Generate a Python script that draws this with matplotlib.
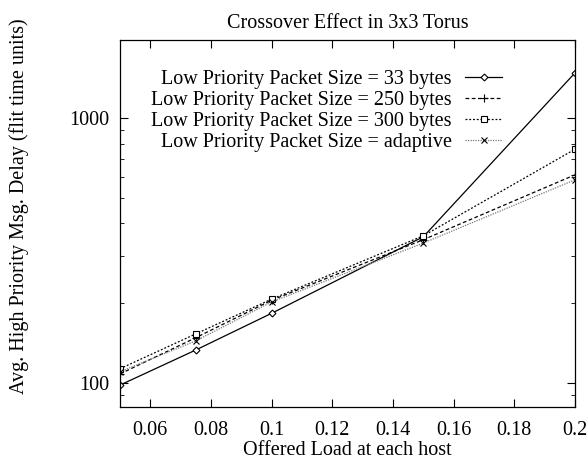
import matplotlib
matplotlib.use("Agg")
import matplotlib.pyplot as plt
from matplotlib.ticker import FixedLocator, LogLocator, NullFormatter

plt.rcParams['font.family'] = ['Liberation Serif', 'DejaVu Serif']

load = [0.05, 0.075, 0.1, 0.15, 0.2]
delay_33 = [98, 133, 183, 356, 1480]
delay_250 = [108, 148, 205, 347, 610]
delay_300 = [113, 153, 207, 359, 762]
delay_adaptive = [110, 144, 202, 337, 584]

labels = ["Low Priority Packet Size = 33 bytes",
          "Low Priority Packet Size = 250 bytes",
          "Low Priority Packet Size = 300 bytes",
          "Low Priority Packet Size = adaptive"]
xticks = [0.06, 0.08, 0.1, 0.12, 0.14, 0.16, 0.18, 0.2]
xticklabels = ["0.06", "0.08", "0.1", "0.12", "0.14", "0.16", "0.18", "0.2"]

fs = 14.5
fig = plt.figure(figsize=(5.88, 4.59), dpi=100)
ax = fig.add_axes([120 / 588, 1 - 407 / 459, 455 / 588, 367 / 459])

ax.plot(load, delay_33, color='black', lw=0.9, ls='-', marker='D', ms=3.5,
        mfc='white', mew=0.8, label=labels[0])
ax.plot(load, delay_250, color='black', lw=0.9, ls=(0, (3, 2)), marker='+', ms=6,
        mew=0.8, label=labels[1])
ax.plot(load, delay_300, color='black', lw=0.9, ls=(0, (1.5, 1.5)), marker='s', ms=5,
        mfc='white', mew=0.8, label=labels[2])
ax.plot(load, delay_adaptive, color='#777777', lw=0.9, ls=(0, (1, 1)), marker='x', ms=5,
        mec='black', mew=0.8, label=labels[3])

ax.set_yscale('log')
ax.set_xlim(0.05, 0.2)
ax.set_ylim(81, 1970)
ax.xaxis.set_major_locator(FixedLocator(xticks))
ax.set_xticklabels(xticklabels)
ax.yaxis.set_major_locator(FixedLocator([100, 1000]))
ax.set_yticklabels(["100", "1000"])
ax.yaxis.set_minor_locator(LogLocator(base=10, subs=range(2, 10)))
ax.yaxis.set_minor_formatter(NullFormatter())
ax.tick_params(which='both', direction='in', top=True, right=True, labelsize=fs)
ax.tick_params(which='major', length=6)
ax.tick_params(which='minor', length=3)
ax.tick_params(axis='y', pad=8)
ax.tick_params(axis='x', pad=10)
for s in ax.spines.values():
    s.set_linewidth(0.9)

ax.set_title("Crossover Effect in 3x3 Torus", fontsize=fs, pad=9)
ax.set_xlabel("Offered Load at each host", fontsize=fs, labelpad=1)
ax.set_ylabel("Avg. High Priority Msg. Delay (flit time units)", fontsize=fs)
ax.yaxis.set_label_coords(-0.2, 0.546)

leg = ax.legend(loc='upper right', bbox_to_anchor=(0.84, 0.919), frameon=False,
                markerfirst=False, fontsize=fs, handlelength=1.85,
                labelspacing=0.1, borderaxespad=0, borderpad=0, handletextpad=0.65)
for t in leg.get_texts():
    t.set_ha('right')
leg._legend_box.align = 'right'

fig.savefig("out.png", dpi=100)
